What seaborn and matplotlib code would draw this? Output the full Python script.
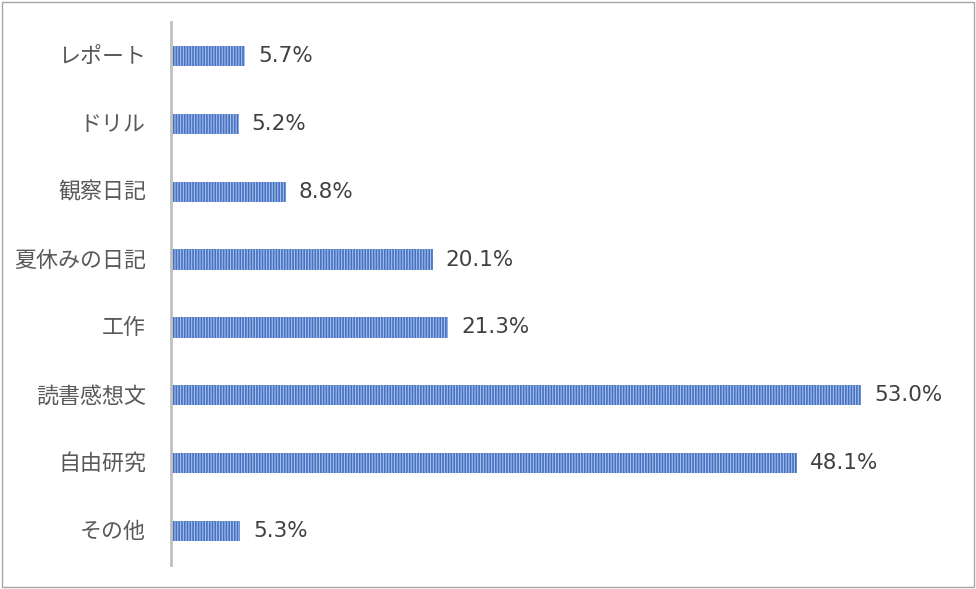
import matplotlib
matplotlib.use("Agg")
import matplotlib.pyplot as plt
import seaborn as sns
import pandas as pd
from matplotlib.patches import Rectangle
from matplotlib.transforms import ScaledTranslation

categories = ["レポート", "ドリル", "観察日記", "夏休みの日記", "工作", "読書感想文", "自由研究", "その他"]
values = [5.7, 5.2, 8.8, 20.1, 21.3, 53.0, 48.1, 5.3]
labels = [f"{v:.1f}%" for v in values]

sns.set_theme(style="white")
plt.rcParams['font.family'] = ['Noto Sans CJK JP', 'DejaVu Sans']
plt.rcParams['hatch.linewidth'] = 1.2
plt.rcParams['hatch.color'] = '#4472C4'

df = pd.DataFrame({"cat": categories, "val": values})

fig = plt.figure(figsize=(9.76, 5.89), dpi=100)
ax = fig.add_axes([171/976, 1-565/589, 781/976, (565-22)/589])
sns.barplot(data=df, y="cat", x="val", orient="h", ax=ax, width=0.3,
            color="#a9bfe6", saturation=1, edgecolor="none")
for p in ax.patches:
    p.set_hatch("||||||")
    p.set_edgecolor("#4472C4")
    p.set_linewidth(0)

for p, lab in zip(ax.patches, labels):
    ax.text(p.get_width() + 1.0, p.get_y() + p.get_height()/2, lab,
            va="center", ha="left", fontsize=15.5, color="#404040",
            family=['DejaVu Sans'])

ax.set_xlim(0, 60)
ax.set_ylim(7.5, -0.5)
ax.set_xlabel("")
ax.set_ylabel("")
ax.set_xticks([])
ax.tick_params(axis='y', length=0, pad=18, labelsize=15.8, labelcolor="#595959")
offset = ScaledTranslation(0, 1.5/100, fig.dpi_scale_trans)
for t in ax.get_yticklabels():
    t.set_transform(t.get_transform() + offset)
for s in ["top", "right", "bottom"]:
    ax.spines[s].set_visible(False)
ax.spines["left"].set_color("#c0c0c0")
ax.spines["left"].set_linewidth(2)

fig.patches.append(Rectangle((0.002, 0.003), 0.996, 0.994, transform=fig.transFigure,
                             fill=False, edgecolor="#a6a6a6", linewidth=1))
fig.savefig("out.png", dpi=100)
